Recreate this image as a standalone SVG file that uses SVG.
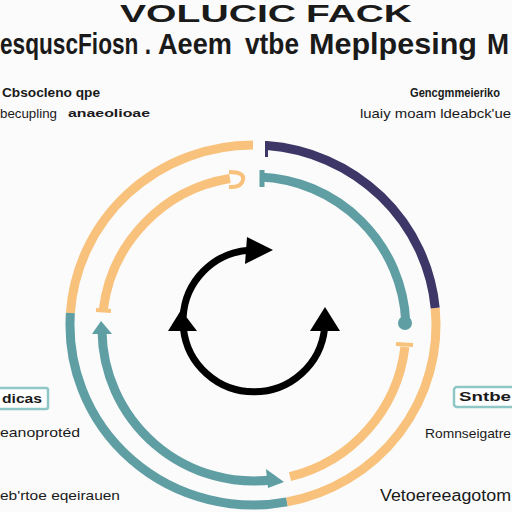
<svg xmlns="http://www.w3.org/2000/svg" width="512" height="512" viewBox="0 0 512 512">
<style>
.t{font-family:"Liberation Sans",Arial,sans-serif;fill:#1a1a1a}
.b{font-weight:bold}
.h1{font-size:23px;font-weight:bold}
.h2{font-size:23px;font-weight:bold}
.ring{fill:none;stroke-width:9;stroke-linecap:butt}
.y{stroke:#f8c27c}
.tl{stroke:#5f9ea3}
.p{stroke:#3d3768}
.blk{fill:none;stroke:#000;stroke-width:7}
.box{fill:#fff;stroke:#8fc6c6;stroke-width:2.5}
</style>
<rect width="512" height="512" fill="#fbfbfb"/>
<g id="title">
<text class="t h1" x="120" y="22" textLength="176" lengthAdjust="spacingAndGlyphs">VOLUCIC</text>
<text class="t h1" x="306" y="22" textLength="106" lengthAdjust="spacingAndGlyphs">FACK</text>
<g transform="translate(0,54) scale(1,1.25)">
<text class="t h2" x="0" y="0" textLength="151" lengthAdjust="spacingAndGlyphs">esquscFiosn .</text>
<text class="t h2" x="158" y="0" textLength="74" lengthAdjust="spacingAndGlyphs">Aeem</text>
<text class="t h2" x="245" y="0" textLength="54" lengthAdjust="spacingAndGlyphs">vtbe</text>
<text class="t h2" x="309" y="0" textLength="168" lengthAdjust="spacingAndGlyphs">Meplpesing</text>
<text class="t h2" x="487" y="0" textLength="22" lengthAdjust="spacingAndGlyphs">M</text>
</g>
</g>
<g id="label-top-left">
<text class="t b" x="2" y="97" font-size="12" textLength="98" lengthAdjust="spacingAndGlyphs">Cbsocleno qpe</text>
<text class="t" x="0" y="118" font-size="13" textLength="57" lengthAdjust="spacingAndGlyphs">becupling</text>
<text class="t b" x="68" y="117" font-size="11" textLength="82" lengthAdjust="spacingAndGlyphs">anaeolioae</text>
</g>
<g id="label-top-right">
<text class="t b" x="410" y="97" font-size="12" textLength="90" lengthAdjust="spacingAndGlyphs">Gencgmmeieriko</text>
<text class="t" x="360" y="118" font-size="13" textLength="151" lengthAdjust="spacingAndGlyphs">luaiy moam ldeabck'ue</text>
</g>
<g id="label-bottom-left">
<rect class="box" x="-6" y="388" width="54" height="21" rx="2"/>
<text class="t b" x="2" y="403" font-size="12" textLength="40" lengthAdjust="spacingAndGlyphs">dicas</text>
<text class="t" x="0" y="437" font-size="13" textLength="80" lengthAdjust="spacingAndGlyphs">eanoprotéd</text>
<text class="t" x="0" y="500" font-size="13" textLength="120" lengthAdjust="spacingAndGlyphs">eb'rtoe eqeirauen</text>
</g>
<g id="label-bottom-right">
<rect class="box" x="454" y="387" width="66" height="20" rx="3"/>
<text class="t b" x="459" y="401" font-size="12" textLength="52" lengthAdjust="spacingAndGlyphs">Sntbe</text>
<text class="t" x="425" y="438" font-size="13" textLength="86" lengthAdjust="spacingAndGlyphs">Romnseigatre</text>
<text class="t" x="380" y="501" font-size="16" textLength="131" lengthAdjust="spacingAndGlyphs">Vetoereeagotom</text>
</g>
<g id="connectors">
<path class="ring y" d="M253,145 A183,180 0 0 0 70.4,313"/>
<path class="ring tl" d="M70.4,313 A183,180 0 0 0 287,501.9"/>
<path class="ring y" d="M287,501.9 A183,180 0 0 0 435.2,308"/>
<path class="ring p" d="M435.2,308 A183,180 0 0 0 267,145.5"/>
<line x1="266.5" y1="141" x2="266.5" y2="157" stroke="#3d3768" stroke-width="3"/>
<path class="ring y" d="M230,178.5 A152,152 0 0 0 103.2,310"/>
<path d="M229,172 Q245,172 243,180 Q241,188 229,187" fill="none" stroke="#f8c27c" stroke-width="4"/>
<line x1="96" y1="310" x2="111" y2="311" stroke="#f8c27c" stroke-width="4"/>
<path class="ring tl" d="M260,177 A152,152 0 0 1 405.8,322"/>
<line x1="262" y1="170" x2="262" y2="187" stroke="#5f9ea3" stroke-width="5"/>
<circle cx="405" cy="323" r="7" fill="#5f9ea3"/>
<path class="ring y" d="M404.9,347 A152,152 0 0 1 290,476.7"/>
<line x1="396" y1="344" x2="413" y2="345" stroke="#f8c27c" stroke-width="4"/>
<path class="ring tl" d="M275,479.5 A152,152 0 0 1 102,331"/>
<path d="M101,321 L92,334 L112,334 Z" fill="#5f9ea3"/>
<path d="M266,469 L284,482 L268,488 Z" fill="#5f9ea3"/>
<path class="blk" d="M183.1,317.3 A71,71 0 0 1 249,250.2"/>
<path d="M247,237 L273,250 L245,264 Z" fill="#000"/>
<path class="blk" d="M183.4,328.4 A71,71 0 0 0 324.6,328.4"/>
<path d="M181,310 L168,331 L197,331 Z" fill="#000"/>
<path d="M325,307 L310,331 L340,331 Z" fill="#000"/>
</g>
</svg>
